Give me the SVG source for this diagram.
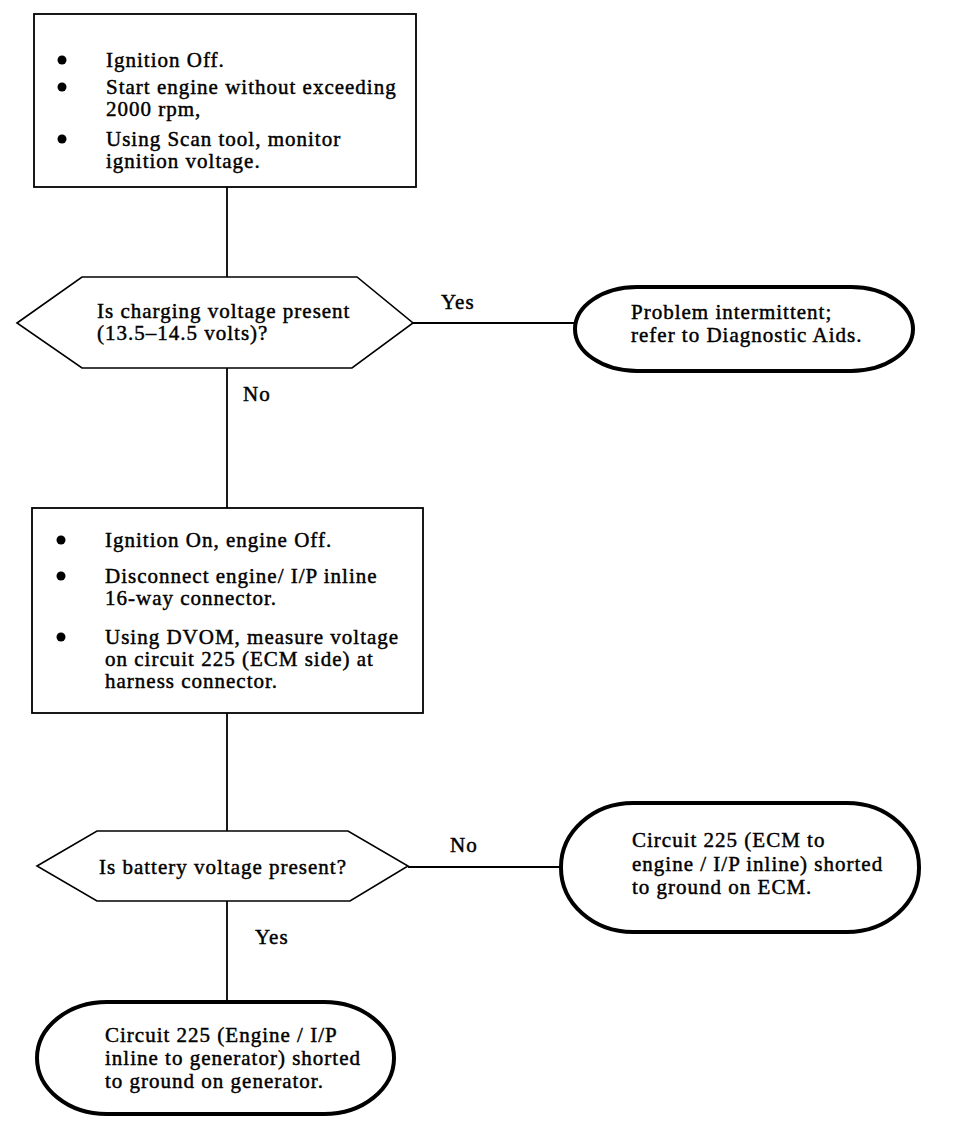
<svg xmlns="http://www.w3.org/2000/svg" width="960" height="1128" viewBox="0 0 960 1128">
<style>
text{font-family:"Liberation Serif","Times New Roman",serif;font-size:21px;fill:#000;letter-spacing:1px;stroke:#000;stroke-width:0.45px}
.box{fill:#fff;stroke:#000;stroke-width:1.8}
.hex{fill:#fff;stroke:#000;stroke-width:1.6}
.term{fill:#fff;stroke:#000;stroke-width:4}
.con{stroke:#000;stroke-width:1.8;fill:none}
</style>
<rect width="960" height="1128" fill="#fff"/>
<g id="connectors">
<line class="con" x1="227" y1="187" x2="227" y2="277"/>
<line class="con" x1="413" y1="323" x2="575" y2="323"/>
<line class="con" x1="227" y1="368" x2="227" y2="508"/>
<line class="con" x1="227" y1="713" x2="227" y2="831"/>
<line class="con" x1="408" y1="867" x2="561" y2="867"/>
<line class="con" x1="227" y1="901" x2="227" y2="1002"/>
<text x="441" y="309">Yes</text>
<text x="243" y="401">No</text>
<text x="450" y="852">No</text>
<text x="255" y="944">Yes</text>
</g>
<g id="step1">
<rect class="box" x="34" y="14" width="382" height="173"/>
<circle cx="62" cy="60" r="4.5"/>
<circle cx="62" cy="87" r="4.5"/>
<circle cx="62" cy="139" r="4.5"/>
<text x="106" y="67">Ignition Off.</text>
<text x="106" y="94">Start engine without exceeding</text>
<text x="106" y="116">2000 rpm,</text>
<text x="106" y="146">Using Scan tool, monitor</text>
<text x="106" y="168">ignition voltage.</text>
</g>
<g id="decision1">
<polygon class="hex" points="17,323 82,277 357,277 413,323 352,368 82,368"/>
<text x="97" y="318">Is charging voltage present</text>
<text x="97" y="340">(13.5–14.5 volts)?</text>
</g>
<g id="result1">
<rect class="term" x="575" y="287" width="338" height="84" rx="62" ry="42"/>
<text x="631" y="319">Problem intermittent;</text>
<text x="631" y="342">refer to Diagnostic Aids.</text>
</g>
<g id="step2">
<rect class="box" x="32" y="508" width="391" height="205"/>
<circle cx="61" cy="540" r="4.5"/>
<circle cx="61" cy="576" r="4.5"/>
<circle cx="61" cy="637" r="4.5"/>
<text x="105" y="547">Ignition On, engine Off.</text>
<text x="105" y="583">Disconnect engine/ I/P inline</text>
<text x="105" y="605">16-way connector.</text>
<text x="105" y="644">Using DVOM, measure voltage</text>
<text x="105" y="666">on circuit 225 (ECM side) at</text>
<text x="105" y="688">harness connector.</text>
</g>
<g id="decision2">
<polygon class="hex" points="37,866 97,831 348,831 408,866 350,901 97,901"/>
<text x="99" y="874">Is battery voltage present?</text>
</g>
<g id="result2">
<rect class="term" x="561" y="803" width="358" height="129" rx="72" ry="64"/>
<text x="632" y="847">Circuit 225 (ECM to</text>
<text x="632" y="871">engine / I/P inline) shorted</text>
<text x="632" y="894">to ground on ECM.</text>
</g>
<g id="result3">
<rect class="term" x="37" y="1002" width="357" height="112" rx="70" ry="56"/>
<text x="105" y="1042">Circuit 225 (Engine / I/P</text>
<text x="105" y="1065">inline to generator) shorted</text>
<text x="105" y="1088">to ground on generator.</text>
</g>
</svg>
